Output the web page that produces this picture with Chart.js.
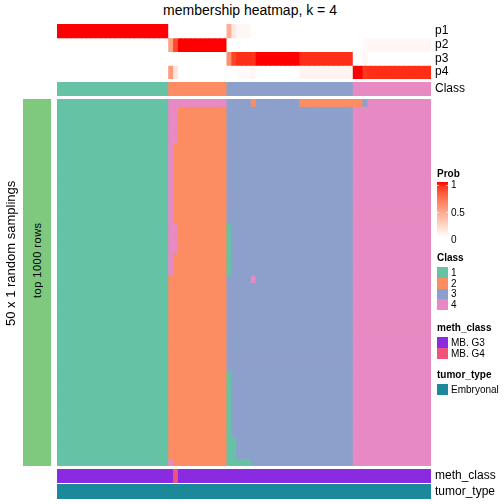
<!DOCTYPE html>
<html>
<head>
<meta charset="utf-8">
<script src="https://cdn.jsdelivr.net/npm/chart.js@4.4.1/dist/chart.umd.min.js"></script>
<style>
  body { margin: 0; background: #fff; font-family: "Liberation Sans", Arial, sans-serif; }
  #wrap { position: relative; width: 504px; height: 504px; overflow: hidden; }
  canvas { position: absolute; left: 0; }
  .t { position: absolute; white-space: nowrap; color: #000; line-height: 1; transform: translateY(-50%); }
  .vert { position: absolute; white-space: nowrap; color: #000; writing-mode: vertical-rl; transform: rotate(180deg); text-align: center; }
  .box { position: absolute; }
</style>
</head>
<body>
<div id="wrap">
  <canvas id="probAnno" width="504" height="55" style="top:24px"></canvas>
  <canvas id="classAnno" width="504" height="14" style="top:82px"></canvas>
  <canvas id="body" width="504" height="367" style="top:99px"></canvas>
  <canvas id="methAnno" width="504" height="14" style="top:469px"></canvas>
  <canvas id="tumorAnno" width="504" height="15" style="top:484px"></canvas>
</div>
<script>
// class assignment of each sample (column), 1..4
const sampleClass = [
  1,1,1,1,1,1,1,1,1,1,
  1,1,1,1,1,1,1,1,1,1,
  1,1,1,2,2,2,2,2,2,2,
  2,2,2,2,2,3,3,3,3,3,
  3,3,3,3,3,3,3,3,3,3,
  3,3,3,3,3,3,3,3,3,3,
  3,4,4,4,4,4,4,4,4,4,
  4,4,4,4,4,4,4
];

// membership probabilities per sample
const p1 = [
  1,1,1,1,1,1,1,1,1,1,
  1,1,1,1,1,1,1,1,1,1,
  1,1,1,0,0,0,0,0,0,0,
  0,0,0,0,0,0.42,0.12,0.04,0.04,0.04,
  0,0,0,0,0,0,0,0,0,0,
  0,0,0,0,0,0,0,0,0,0,
  0,0,0,0,0,0,0,0,0,0,
  0,0,0,0,0,0,0
];
const p2 = [
  0,0,0,0,0,0,0,0,0,0,
  0,0,0,0,0,0,0,0,0,0,
  0,0,0,0.48,0.86,1,1,1,1,1,
  1,1,1,1,1,0,0,0,0,0,
  0,0,0,0,0,0,0,0,0,0,
  0,0,0,0,0,0,0,0,0,0,
  0,0,0,0.03,0.04,0.04,0.04,0.04,0.04,0.04,
  0.04,0.04,0.04,0.04,0.04,0.04,0.04
];
const p3 = [
  0,0,0,0,0,0,0,0,0,0,
  0,0,0,0,0,0,0,0,0,0,
  0,0,0,0,0,0,0,0,0,0,
  0,0,0,0,0,0.58,0.88,0.94,0.94,0.94,
  0.93,1,1,1,1,1,1,1,1,1,
  0.94,0.94,0.94,0.94,0.94,0.94,0.94,0.94,0.94,0.94,
  0.94,0,0,0.05,0,0,0,0,0,0,
  0,0,0,0,0,0,0
];
const p4 = [
  0,0,0,0,0,0,0,0,0,0,
  0,0,0,0,0,0,0,0,0,0,
  0,0,0,0.52,0.14,0,0,0,0,0,
  0,0,0,0,0,0,0,0.02,0.02,0.02,
  0.05,0,0,0,0,0,0,0,0,0,
  0.06,0.06,0.06,0.06,0.06,0.06,0.06,0.06,0.06,0.06,
  0.06,1,1,0.92,0.94,0.94,0.94,0.94,0.94,0.94,
  0.94,0.94,0.94,0.94,0.94,0.94,0.94
];

// 50 random samplings: cells that differ from the consensus class
// [rowFrom, rowTo, colFrom, colTo, class]
const samplingDiffs = [
  [0, 0, 23, 34, 4], [0, 0, 40, 40, 2], [0, 0, 50, 62, 2], [0, 0, 63, 63, 3],
  [0, 23, 23, 23, 4], [49, 49, 23, 23, 4],
  [0, 5, 24, 24, 4], [17, 20, 24, 24, 4],
  [17, 23, 35, 35, 1], [37, 49, 35, 35, 1], [46, 49, 36, 36, 1], [49, 49, 37, 39, 1],
  [24, 24, 40, 40, 4]
];
const nSamplings = 50;

const methLevels = ['MB. G3', 'MB. G4'];
const methClass = [
  0,0,0,0,0,0,0,0,0,0,
  0,0,0,0,0,0,0,0,0,0,
  0,0,0,0,1,0,0,0,0,0,
  0,0,0,0,0,0,0,0,0,0,
  0,0,0,0,0,0,0,0,0,0,
  0,0,0,0,0,0,0,0,0,0,
  0,0,0,0,0,0,0,0,0,0,
  0,0,0,0,0,0,0
];
const tumorLevels = ['Embryonal'];

const classColors = { 1: '#66C2A5', 2: '#FC8D62', 3: '#8DA0CB', 4: '#E78AC3' };
const methColors = ['#8A2BE2', '#F0527B'];
const tumorColors = ['#1C899B'];
const FONT = '"Liberation Sans", Arial, sans-serif';

// white -> red in Lab space, like colorRamp2
function toLin(c) { c /= 255; return c <= 0.04045 ? c / 12.92 : Math.pow((c + 0.055) / 1.055, 2.4); }
function fromLin(v) {
  v = Math.min(1, Math.max(0, v));
  const s = v <= 0.0031308 ? 12.92 * v : 1.055 * Math.pow(v, 1 / 2.4) - 0.055;
  return Math.round(s * 255);
}
function rgb2lab(r, g, b) {
  r = toLin(r); g = toLin(g); b = toLin(b);
  const x = (0.4124 * r + 0.3576 * g + 0.1805 * b) / 0.95047;
  const y = 0.2126 * r + 0.7152 * g + 0.0722 * b;
  const z = (0.0193 * r + 0.1192 * g + 0.9505 * b) / 1.08883;
  const f = t => t > 0.008856 ? Math.cbrt(t) : 7.787 * t + 16 / 116;
  return [116 * f(y) - 16, 500 * (f(x) - f(y)), 200 * (f(y) - f(z))];
}
function lab2rgb(L, a, b) {
  const fy = (L + 16) / 116, fx = fy + a / 500, fz = fy - b / 200;
  const fi = t => t * t * t > 0.008856 ? t * t * t : (t - 16 / 116) / 7.787;
  const x = fi(fx) * 0.95047, y = fi(fy), z = fi(fz) * 1.08883;
  const r = 3.2406 * x - 1.5372 * y - 0.4986 * z;
  const g = -0.9689 * x + 1.8758 * y + 0.0415 * z;
  const bb = 0.0557 * x - 0.2040 * y + 1.0570 * z;
  return `rgb(${fromLin(r)},${fromLin(g)},${fromLin(bb)})`;
}
const labW = rgb2lab(255, 255, 255), labR = rgb2lab(255, 0, 0);
function probColor(p) {
  return lab2rgb(labW[0] + (labR[0] - labW[0]) * p, labW[1] + (labR[1] - labW[1]) * p, labW[2] + (labR[2] - labW[2]) * p);
}

Chart.defaults.font.family = FONT;
const colLabels = sampleClass.map((_, i) => 'S' + (i + 1));

// each heatmap block is a bar chart of floating bars, one dataset per row
function heatChart(id, rows, rowLabels) {
  const ctx = document.getElementById(id).getContext('2d');
  return new Chart(ctx, {
    type: 'bar',
    data: {
      labels: colLabels,
      datasets: rows.map((colors, r) => ({
        data: colLabels.map(() => [r, r + 1]),
        backgroundColor: colors,
        grouped: false,
        barPercentage: 1,
        categoryPercentage: 1,
        borderWidth: 0,
        inflateAmount: 0.5
      }))
    },
    options: {
      responsive: false,
      animation: false,
      devicePixelRatio: 1,
      layout: { padding: { left: 57, right: rowLabels ? 0 : 73, top: 0, bottom: 0 } },
      plugins: { legend: { display: false }, tooltip: { enabled: false } },
      scales: {
        x: { display: false },
        y: {
          display: !!rowLabels,
          position: 'right',
          reverse: true,
          min: 0,
          max: rows.length,
          grid: { display: false, drawTicks: false },
          border: { display: false },
          afterBuildTicks: s => { if (rowLabels) s.ticks = rowLabels.map((_, i) => ({ value: i + 0.5 })); },
          afterFit: s => {
            if (!rowLabels) return;
            s.width = 73;
            s.paddingTop = 0;
            s.paddingBottom = 0;
          },
          ticks: {
            autoSkip: false,
            padding: 4,
            color: '#000',
            font: { size: 12 },
            callback: (v, i) => rowLabels ? rowLabels[i] : ''
          }
        }
      }
    }
  });
}

// top annotation
heatChart('probAnno', [p1, p2, p3, p4].map(p => p.map(probColor)), ['p1', 'p2', 'p3', 'p4']);
heatChart('classAnno', [sampleClass.map(c => classColors[c])], ['Class']);

// body: one row per sampling
const grid = [];
for (let r = 0; r < nSamplings; r++) grid.push(sampleClass.slice());
samplingDiffs.forEach(([r0, r1, c0, c1, k]) => {
  for (let r = r0; r <= r1; r++) for (let c = c0; c <= c1; c++) grid[r][c] = k;
});
heatChart('body', grid.map(row => row.map(k => classColors[k])), null);

// bottom annotation
heatChart('methAnno', [methClass.map(m => methColors[m])], ['meth_class']);
heatChart('tumorAnno', [sampleClass.map(() => tumorColors[0])], ['tumor_type']);

// text, side bar and legends
const wrap = document.getElementById('wrap');
function txt(s, x, cy, size, bold) {
  const d = document.createElement('div');
  d.className = 't';
  d.textContent = s;
  d.style.left = x + 'px';
  d.style.top = cy + 'px';
  d.style.fontSize = size + 'px';
  if (bold) d.style.fontWeight = 'bold';
  wrap.appendChild(d);
  return d;
}
function vert(s, cx, cy, size, w, h) {
  const d = document.createElement('div');
  d.className = 'vert';
  d.textContent = s;
  Object.assign(d.style, {
    left: (cx - w / 2) + 'px', top: (cy - h / 2) + 'px', width: w + 'px', height: h + 'px',
    lineHeight: w + 'px', fontSize: size + 'px'
  });
  wrap.appendChild(d);
  return d;
}
function box(x, y, w, h, bg) {
  const d = document.createElement('div');
  d.className = 'box';
  Object.assign(d.style, { left: x + 'px', top: y + 'px', width: w + 'px', height: h + 'px', background: bg });
  wrap.appendChild(d);
  return d;
}

const title = txt('membership heatmap, k = 4', 250, 10, 14);
title.style.transform = 'translate(-50%, -50%)';

box(23, 99, 28, 367, '#7FC97F');
vert('top 1000 rows', 37, 260, 11, 14, 300).style.letterSpacing = '0.5px';
vert('50 x 1 random samplings', 11, 253, 13, 16, 300);

// Prob legend
txt('Prob', 437, 174, 10, true);
const stops = [];
for (let i = 0; i <= 10; i++) stops.push(probColor(1 - i / 10) + ' ' + (i * 10) + '%');
box(437, 182, 11, 55, 'linear-gradient(to bottom,' + stops.join(',') + ')');
box(437, 185, 2, 1, 'rgba(255,255,255,0.7)'); box(446, 185, 2, 1, 'rgba(255,255,255,0.7)');
box(437, 212, 2, 1, 'rgba(255,255,255,0.7)'); box(446, 212, 2, 1, 'rgba(255,255,255,0.7)');
txt('1', 451, 185, 10); txt('0.5', 451, 213, 10); txt('0', 451, 240, 10);

// Class legend
txt('Class', 437, 258, 10, true);
[1, 2, 3, 4].forEach((k, i) => {
  box(437, 267.3 + i * 10.7, 11, 10.7, classColors[k]);
  txt(String(k), 451, 272.8 + i * 10.7, 10);
});

// meth_class legend
txt('meth_class', 437, 328, 10, true);
methLevels.forEach((m, i) => {
  box(437, 337.3 + i * 10.7, 11, 10.7, methColors[i]);
  txt(m, 451, 342.8 + i * 10.7, 10);
});

// tumor_type legend
txt('tumor_type', 437, 375, 10, true);
tumorLevels.forEach((m, i) => {
  box(437, 384 + i * 10.7, 11, 10.7, tumorColors[i]);
  txt(m, 451, 389.5 + i * 10.7, 10);
});
</script>
</body>
</html>
